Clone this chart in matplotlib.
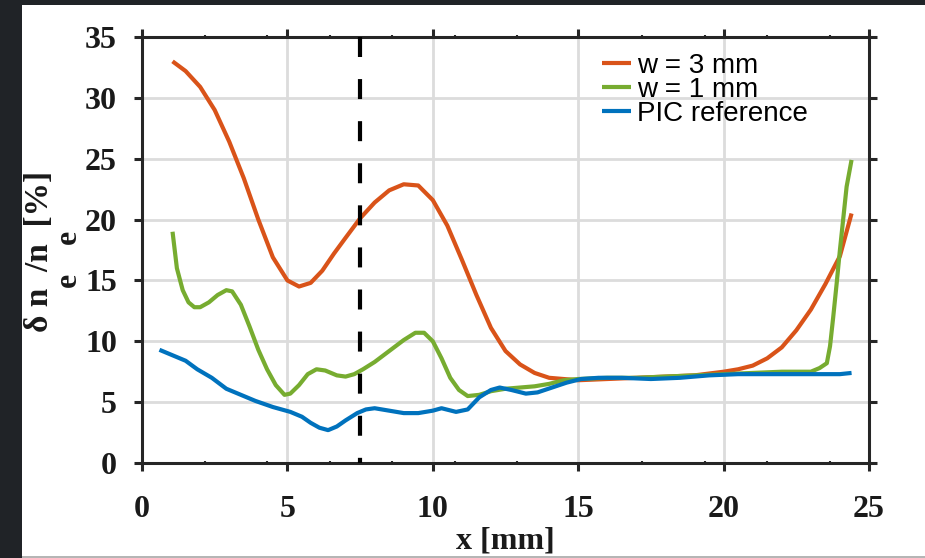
import numpy as np
import matplotlib

matplotlib.use("Agg")
import matplotlib.pyplot as plt
from matplotlib.patches import Rectangle
from matplotlib.ticker import FixedLocator

# density fluctuation along x
x_w3 = [1.05, 1.5, 2.0, 2.5, 3.0, 3.5, 4.0, 4.5, 5.0, 5.4, 5.8, 6.2, 6.6, 7.0, 7.5,
        8.0, 8.5, 9.0, 9.5, 10.0, 10.5, 11.0, 11.5, 12.0, 12.5, 13.0, 13.5, 14.0,
        15.0, 16.0, 17.0, 18.0, 19.0, 20.0, 20.5, 21.0, 21.5, 22.0, 22.5, 23.0,
        23.5, 24.0, 24.4]
y_w3 = [33.0, 32.2, 30.9, 29.0, 26.4, 23.4, 20.0, 16.9, 15.0, 14.5, 14.8, 15.8,
        17.2, 18.5, 20.1, 21.4, 22.4, 22.9, 22.8, 21.6, 19.5, 16.7, 13.8, 11.1,
        9.2, 8.1, 7.4, 7.0, 6.8, 6.9, 7.0, 7.1, 7.2, 7.5, 7.7, 8.0, 8.6, 9.5,
        10.9, 12.6, 14.7, 17.0, 20.5]

x_w1 = [1.05, 1.2, 1.4, 1.6, 1.8, 2.0, 2.3, 2.6, 2.9, 3.1, 3.4, 3.7, 4.0, 4.3,
        4.6, 4.9, 5.1, 5.4, 5.7, 6.0, 6.3, 6.7, 7.0, 7.3, 7.6, 8.0, 8.5, 9.0, 9.4,
        9.7, 10.0, 10.3, 10.6, 10.9, 11.2, 11.6, 12.0, 12.5, 13.0, 13.5, 14.0,
        14.5, 15.0, 16.0, 17.0, 18.0, 19.0, 20.0, 21.0, 22.0, 23.0, 23.3, 23.55,
        23.66, 23.77, 23.89, 24.0, 24.12, 24.23, 24.4]
y_w1 = [19.0, 16.0, 14.2, 13.2, 12.8, 12.8, 13.2, 13.8, 14.2, 14.1, 13.0, 11.2,
        9.3, 7.7, 6.4, 5.6, 5.7, 6.4, 7.3, 7.7, 7.6, 7.2, 7.1, 7.3, 7.7, 8.3, 9.2,
        10.1, 10.7, 10.7, 10.0, 8.6, 7.0, 6.0, 5.5, 5.6, 5.9, 6.1, 6.2, 6.3, 6.5,
        6.8, 6.9, 7.0, 7.0, 7.1, 7.2, 7.3, 7.4, 7.5, 7.5, 7.8, 8.2, 9.6, 12.0,
        14.8, 17.5, 20.2, 22.7, 24.9]

x_pic = [0.6, 1.0, 1.5, 1.9, 2.4, 2.9, 3.4, 3.9, 4.5, 5.1, 5.5, 5.8, 6.1, 6.4,
         6.7, 7.0, 7.4, 7.7, 8.0, 8.5, 9.0, 9.5, 10.0, 10.3, 10.8, 11.2, 11.6,
         12.0, 12.3, 12.7, 13.2, 13.6, 14.1, 14.6, 15.1, 15.7, 16.5, 17.5, 18.5,
         19.5, 20.5, 21.5, 22.5, 23.5, 24.0, 24.4]
y_pic = [9.3, 8.9, 8.4, 7.7, 7.0, 6.1, 5.6, 5.1, 4.6, 4.2, 3.8, 3.3, 2.9, 2.7,
         3.0, 3.5, 4.1, 4.4, 4.5, 4.3, 4.1, 4.1, 4.3, 4.5, 4.2, 4.4, 5.4, 6.0,
         6.2, 6.0, 5.7, 5.8, 6.2, 6.6, 6.9, 7.0, 7.0, 6.9, 7.0, 7.2, 7.3, 7.3,
         7.3, 7.3, 7.3, 7.4]

x_marker = 7.5
labels = ["w = 3 mm", "w = 1 mm", "PIC reference"]
colors = ["#D95319", "#77AC30", "#0072BD"]

W, H = 925, 558
fig = plt.figure(figsize=(W / 100, H / 100), dpi=100)
fig.patch.set_facecolor("#202327")
# white page area inside the dark screenshot border
fig.patches.append(Rectangle((22 / W, 0), 1 - 22 / W, (H - 5) / H,
                             transform=fig.transFigure, facecolor="white",
                             edgecolor="none", zorder=-2))
fig.patches.append(Rectangle((22 / W, 0), 1 - 22 / W, 2 / H,
                             transform=fig.transFigure, facecolor="#b5b5b5",
                             edgecolor="none", zorder=-1))

ax = fig.add_axes([142 / W, 1 - 463 / H, (869 - 142) / W, (463 - 37) / H])
ax.set_facecolor("none")
ax.set_zorder(2)

for xs, ys, c, lab in zip([x_w3, x_w1, x_pic], [y_w3, y_w1, y_pic], colors, labels):
    ax.plot(xs, ys, color=c, lw=3, label=lab, solid_capstyle="butt",
            solid_joinstyle="round")

ax.plot([x_marker, x_marker], [35, 0], color="black", lw=3,
        linestyle=(0, (4.8, 5.3)), zorder=3)

ax.set_xlim(0, 25)
ax.set_ylim(0, 35)
ax.set_xticks(np.arange(0, 26, 5))
ax.set_yticks(np.arange(0, 36, 5))
ax.xaxis.set_minor_locator(FixedLocator([2.15, 4.3, 6.45, 8.6, 10.75, 12.9,
                                         17.2, 19.35, 21.5, 23.65]))
ax.grid(True, which="major", color="#dcdcdc", lw=2)
ax.set_axisbelow(True)

for s in ax.spines.values():
    s.set_linewidth(2.2)
    s.set_color("#262626")

ax.tick_params(which="major", direction="out", length=6, width=2.2,
               color="#262626", top=True, right=True)
ax.tick_params(which="minor", direction="inout", length=3, width=1.5,
               color="#262626", top=True)
ax.tick_params(axis="x", which="major", pad=17)
ax.tick_params(axis="y", which="major", pad=12)
for lab in ax.get_xticklabels() + ax.get_yticklabels():
    lab.set_fontfamily("Liberation Serif")
    lab.set_fontweight("bold")
    lab.set_fontsize(23)
    lab.set_color("#1a1a1a")

ax.set_xlabel("x [mm]", fontfamily="Liberation Serif", fontweight="bold",
              fontsize=23, color="#1a1a1a", labelpad=2)

# y label with the subscripts drawn the way they sit in the original
fig.text(40 / W, 1 - 251 / H, "δ n  /n  [%]", rotation=90, ha="center", va="center",
         fontfamily="Liberation Serif", fontweight="bold", fontsize=24, color="#1a1a1a")
for yp in [237, 280]:
    fig.text(68 / W, 1 - yp / H, "e", rotation=90, ha="center", va="center",
             fontfamily="Liberation Serif", fontweight="bold", fontsize=23,
             color="#1a1a1a")

leg = ax.legend(loc="upper left", bbox_to_anchor=(602 / W, 1 - 53 / H),
                bbox_transform=fig.transFigure, frameon=False,
                prop={"family": "Liberation Sans", "size": 20},
                handlelength=1.05, handletextpad=0.22, labelspacing=-0.08,
                borderpad=0, borderaxespad=0)
for h in leg.get_lines():
    h.set_linewidth(3)

fig.savefig("out.png", dpi=100, facecolor=fig.get_facecolor())
